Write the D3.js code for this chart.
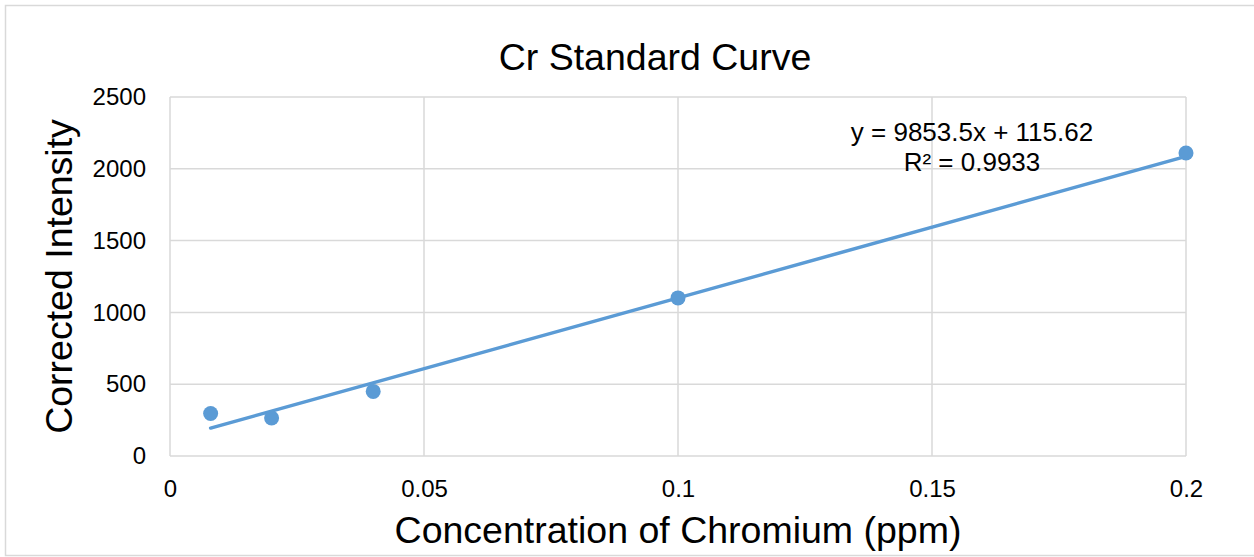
<!DOCTYPE html>
<html>
<head>
<meta charset="utf-8">
<script src="https://cdn.jsdelivr.net/npm/d3@7"></script>
<style>
  html, body { margin: 0; padding: 0; background: #fff; }
  svg { display: block; font-family: "Liberation Sans", Arial, sans-serif; }
</style>
</head>
<body>
<svg id="chart" width="1254" height="557"></svg>
<script>
// data
const concentration = [0.008, 0.02, 0.04, 0.1, 0.2];
const intensity = [296, 265, 450, 1101, 2110];
const xTicks = [0, 0.05, 0.1, 0.15, 0.2];
const yTicks = [0, 500, 1000, 1500, 2000, 2500];
// trendline as printed on the chart
const slope = 9853.5;
const intercept = 115.62;
const equationLines = ["y = 9853.5x + 115.62", "R² = 0.9933"];

const svg = d3.select("#chart");
const width = 1254, height = 557;
const margin = { top: 97, right: 68, bottom: 101, left: 170 };
const blue = "#5B9BD5";
const grid = "#d9d9d9";
const font = "Liberation Sans, Arial, sans-serif";

// outer chart border
svg.append("rect")
    .attr("x", 5.5).attr("y", 5.5)
    .attr("width", 1260).attr("height", 550)
    .attr("fill", "none")
    .attr("stroke", grid)
    .attr("stroke-width", 1.5);

const x = d3.scaleLinear().domain([0, 0.2]).range([margin.left, width - margin.right]);
const y = d3.scaleLinear().domain([0, 2500]).range([height - margin.bottom, margin.top]);

// gridlines
svg.append("g")
    .selectAll("line").data(yTicks).join("line")
    .attr("x1", x(0)).attr("x2", x(0.2))
    .attr("y1", d => y(d)).attr("y2", d => y(d))
    .attr("stroke", grid).attr("stroke-width", 1.5);
svg.append("g")
    .selectAll("line").data(xTicks).join("line")
    .attr("x1", d => x(d)).attr("x2", d => x(d))
    .attr("y1", y(0)).attr("y2", y(2500))
    .attr("stroke", grid).attr("stroke-width", 1.5);

// axes (labels only)
const xAxis = svg.append("g")
    .attr("transform", `translate(0,${y(0)})`)
    .call(d3.axisBottom(x).tickValues(xTicks).tickFormat(d => String(d)).tickSize(0).tickPadding(24));
const yAxis = svg.append("g")
    .attr("transform", `translate(${x(0)},0)`)
    .call(d3.axisLeft(y).tickValues(yTicks).tickFormat(d => String(d)).tickSize(0).tickPadding(24));
[xAxis, yAxis].forEach(a => {
    a.select(".domain").remove();
    a.selectAll("text").attr("font-size", 24).attr("fill", "#000").attr("font-family", font);
});

// trendline
const xMin = d3.min(concentration), xMax = d3.max(concentration);
svg.append("line")
    .attr("x1", x(xMin)).attr("y1", y(slope * xMin + intercept))
    .attr("x2", x(xMax)).attr("y2", y(slope * xMax + intercept))
    .attr("stroke", blue).attr("stroke-width", 3.5)
    .attr("stroke-linecap", "round");

// points
svg.append("g")
    .selectAll("circle").data(concentration).join("circle")
    .attr("cx", d => x(d))
    .attr("cy", (d, i) => y(intensity[i]))
    .attr("r", 7.5)
    .attr("fill", blue);

// equation label
svg.append("g")
    .selectAll("text").data(equationLines).join("text")
    .attr("x", 972)
    .attr("y", (d, i) => 141 + i * 30)
    .attr("text-anchor", "middle")
    .attr("font-size", 26)
    .text(d => d);

// title and axis titles
svg.append("text")
    .attr("x", 655).attr("y", 70)
    .attr("text-anchor", "middle")
    .attr("font-size", 37.5)
    .text("Cr Standard Curve");

svg.append("text")
    .attr("x", (x(0) + x(0.2)) / 2).attr("y", 543)
    .attr("text-anchor", "middle")
    .attr("font-size", 37.5)
    .text("Concentration of Chromium (ppm)");

svg.append("text")
    .attr("transform", `translate(72,${(y(0) + y(2500)) / 2}) rotate(-90)`)
    .attr("text-anchor", "middle")
    .attr("font-size", 37.5)
    .text("Corrected Intensity");
</script>
</body>
</html>
